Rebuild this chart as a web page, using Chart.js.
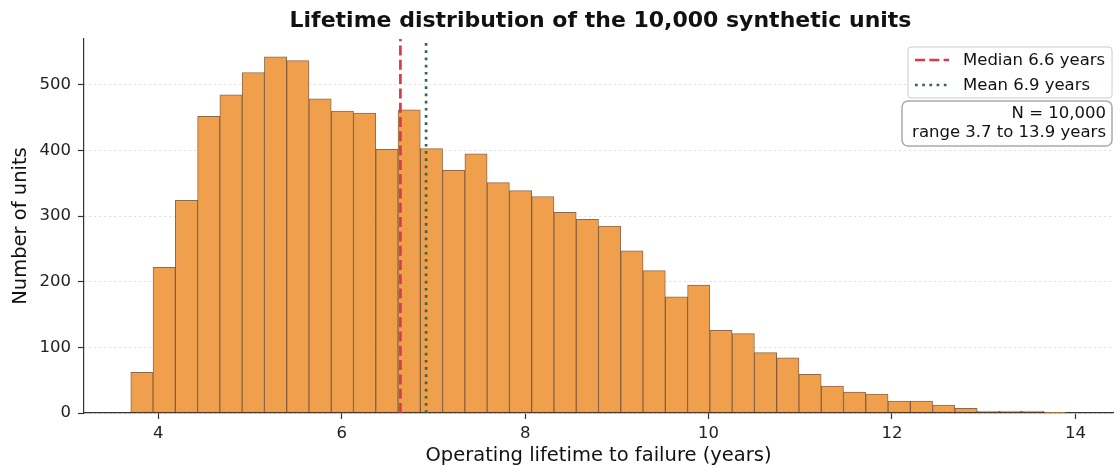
<!DOCTYPE html>
<html lang="en">
<head>
  <meta charset="UTF-8">
  <title>Lifetime distribution</title>
  <script src="https://cdn.jsdelivr.net/npm/chart.js"></script>
  <style>
    html, body { margin: 0; padding: 0; background: #fff; }
    .chart-box { position: relative; width: 1115px; height: 471px; }
  </style>
</head>
<body>
  <div class="chart-box">
    <canvas id="lifeChart" width="1115" height="471"></canvas>
  </div>

  <script>
    // histogram: 42 equal bins from 3.7 to 13.9 years
    const binStart = 3.7;
    const binEnd = 13.9;
    const binCounts = [
      62, 222, 324, 452, 485, 519, 543, 537, 479, 460,
      457, 402, 462, 403, 370, 395, 351, 339, 330, 306,
      295, 285, 247, 217, 177, 195, 126, 121, 92, 84,
      59, 41, 32, 29, 18, 18, 12, 7, 3, 3,
      3, 1
    ];
    const medianYears = 6.64;
    const meanYears = 6.92;
    const xTicks = [4, 6, 8, 10, 12, 14];
    const yTicks = [0, 100, 200, 300, 400, 500];
    const xRange = [3.19, 14.41];
    const yRange = [0, 570];
    const noteLines = ['N = 10,000', 'range 3.7 to 13.9 years'];

    const binWidth = (binEnd - binStart) / binCounts.length;
    const barPoints = binCounts.map((c, i) => ({ x: binStart + (i + 0.5) * binWidth, y: c }));

    Chart.defaults.font.family = "'DejaVu Sans', sans-serif";
    Chart.defaults.color = '#222';

    const textColor = '#111';
    const axisColor = '#333';

    // title centred over the plot area, plus legend and note boxes in the top right
    const extras = {
      id: 'extras',
      afterDraw(chart) {
        const { ctx, chartArea: a } = chart;
        ctx.save();
        ctx.fillStyle = textColor;
        ctx.font = "bold 22px 'DejaVu Sans'";
        ctx.textAlign = 'center';
        ctx.textBaseline = 'middle';
        ctx.fillText('Lifetime distribution of the 10,000 synthetic units', (a.left + a.right) / 2 + 2, 21);

        // legend
        const lx = a.right - 205, ly = a.top + 8;
        ctx.beginPath();
        ctx.roundRect(lx, ly, 204, 51, 3);
        ctx.fillStyle = 'rgba(255,255,255,0.85)';
        ctx.fill();
        ctx.strokeStyle = '#cccccc';
        ctx.lineWidth = 1;
        ctx.stroke();

        ctx.font = "16.5px 'DejaVu Sans'";
        ctx.textAlign = 'left';
        const lines = chart.data.datasets.filter(d => d.type === 'line');
        lines.forEach((d, i) => {
          const y = ly + 13 + i * 25;
          ctx.beginPath();
          ctx.setLineDash(d.borderDash);
          ctx.strokeStyle = d.borderColor;
          ctx.lineWidth = d.borderWidth;
          ctx.moveTo(lx + 7, y);
          ctx.lineTo(lx + 41, y);
          ctx.stroke();
          ctx.setLineDash([]);
          ctx.fillStyle = textColor;
          ctx.fillText(d.label, lx + 55, y + 1);
        });

        // note box
        const nx = a.right - 211, ny = a.top + 62;
        ctx.beginPath();
        ctx.roundRect(nx, ny, 210, 45, 6);
        ctx.fillStyle = 'rgba(255,255,255,0.9)';
        ctx.fill();
        ctx.strokeStyle = '#aaaaaa';
        ctx.lineWidth = 1.5;
        ctx.stroke();
        ctx.fillStyle = textColor;
        ctx.textAlign = 'right';
        noteLines.forEach((t, i) => ctx.fillText(t, a.right - 7, ny + 13 + i * 19));
        ctx.restore();
      }
    };

    new Chart(document.getElementById('lifeChart'), {
      type: 'bar',
      data: {
        datasets: [
          {
            type: 'line',
            label: 'Median ' + medianYears.toFixed(1) + ' years',
            data: [{ x: medianYears, y: yRange[0] }, { x: medianYears, y: yRange[1] }],
            borderColor: '#d63a4b',
            borderWidth: 2.7,
            borderDash: [10, 4.3],
            pointRadius: 0,
            order: 0
          },
          {
            type: 'line',
            label: 'Mean ' + meanYears.toFixed(1) + ' years',
            data: [{ x: meanYears, y: yRange[0] }, { x: meanYears, y: yRange[1] }],
            borderColor: '#2e6b4c',
            borderWidth: 2.7,
            borderDash: [2.7, 4.5],
            pointRadius: 0,
            order: 0
          },
          {
            type: 'bar',
            label: 'units',
            data: barPoints,
            backgroundColor: '#f0a04c',
            borderColor: 'rgba(115, 68, 30, 0.8)',
            borderWidth: 1,
            borderSkipped: false,
            barPercentage: 1,
            categoryPercentage: 1,
            order: 2
          }
        ]
      },
      options: {
        responsive: false,
        animation: false,
        layout: { padding: { top: 39, right: 2, left: 0, bottom: 0 } },
        plugins: {
          legend: { display: false },
          tooltip: { enabled: false }
        },
        scales: {
          x: {
            type: 'linear',
            min: xRange[0],
            max: xRange[1],
            offset: false,
            afterBuildTicks: s => { s.ticks = xTicks.map(v => ({ value: v })); },
            afterFit: s => { s.height = 58; },
            grid: { offset: false, drawOnChartArea: false, tickLength: 6, tickColor: axisColor, tickWidth: 1.2 },
            border: { color: axisColor, width: 1.2 },
            ticks: { font: { size: 16.5 }, color: '#222', padding: 5, maxRotation: 0 },
            title: {
              display: true,
              text: 'Operating lifetime to failure (years)',
              font: { size: 19.5 },
              color: textColor,
              padding: { top: 0, bottom: 3 }
            }
          },
          y: {
            min: yRange[0],
            max: yRange[1],
            afterBuildTicks: s => { s.ticks = yTicks.map(v => ({ value: v })); },
            afterFit: s => { s.width = 84; },
            grid: { color: '#dddddd', lineWidth: 1, tickLength: 6, tickColor: axisColor, tickWidth: 1.2 },
            border: { color: axisColor, width: 1.2, dash: [2, 3] },
            ticks: { font: { size: 16.5 }, color: '#222', padding: 7 },
            title: {
              display: true,
              text: 'Number of units',
              font: { size: 19.5 },
              color: textColor,
              padding: { top: 9, bottom: 0 }
            }
          }
        }
      },
      plugins: [extras]
    });
  </script>
</body>
</html>
